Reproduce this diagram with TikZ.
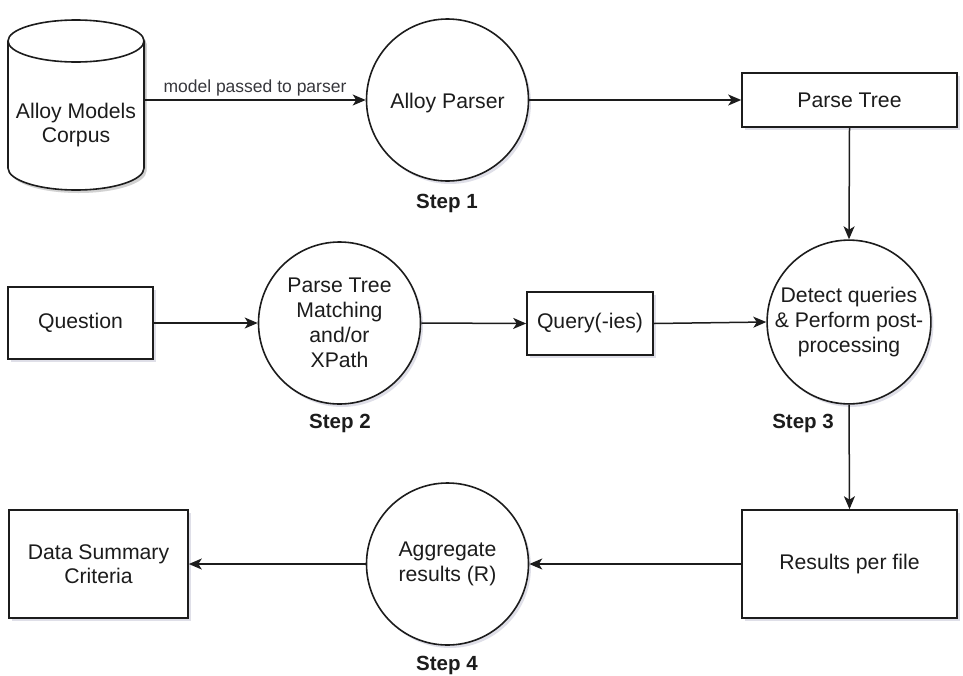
\documentclass[tikz,border=0pt]{standalone}
\usepackage{fontspec}
\setmainfont{Liberation Sans}
\usetikzlibrary{arrows.meta,shadows}
\definecolor{ink}{RGB}{28,28,28}
\definecolor{labelgray}{RGB}{55,55,60}
\definecolor{shade}{RGB}{110,110,150}
\tikzset{
  every picture/.style={x=1pt,y=1pt},
  soft/.style={drop shadow={shadow xshift=2.5pt,shadow yshift=-3pt,opacity=0.22,fill=shade}},
  procbox/.style={draw=ink,line width=1.6pt,fill=white,rectangle,inner sep=0pt,align=center,
    text=ink,font=\fontsize{21.2}{24.5}\selectfont,soft},
  proccircle/.style={draw=ink,line width=1.6pt,fill=white,circle,minimum size=162pt,inner sep=0pt,
    align=center,text=ink,font=\fontsize{21.2}{25}\selectfont,soft,
    execute at begin node={\rule{0pt}{22pt}}},
  steplabel/.style={font=\bfseries\fontsize{20.5}{24}\selectfont,text=ink,inner sep=0pt},
  flow/.style={draw=ink,line width=1.5pt,-{Stealth[length=13pt,width=11pt,inset=3.5pt]}},
}
\begin{document}
\begin{tikzpicture}
\useasboundingbox (0,0) rectangle (963,-675);

% corpus cylinder
\node[minimum width=136pt,minimum height=172pt,inner sep=0pt] (corpus) at (76,-105) {};
\fill[shade,opacity=0.22,shift={(2.5pt,-3pt)}] (8,-41) -- (8,-168) arc[start angle=180,end angle=360,x radius=68pt,y radius=22pt] -- (144,-41) arc[start angle=0,end angle=180,x radius=68pt,y radius=21pt] -- cycle;
\draw[ink,line width=1.6pt,fill=white] (8,-41) -- (8,-168) arc[start angle=180,end angle=360,x radius=68pt,y radius=22pt] -- (144,-41) arc[start angle=0,end angle=180,x radius=68pt,y radius=21pt] -- cycle;
\draw[ink,line width=1.6pt] (8,-41) arc[start angle=180,end angle=360,x radius=68pt,y radius=21pt];
\node[text=ink,align=center,font=\fontsize{21.2}{24.5}\selectfont] (corpustext) at (76,-125) {Alloy Models\\Corpus};

% processing steps
\node[proccircle] (parser) at (447.5,-100) {Alloy Parser};
\node[proccircle] (match) at (339.5,-323) {Parse Tree\\Matching\\and/or\\XPath};
\node[proccircle] (detect) at (849,-322) {Detect queries\\\& Perform post-\\processing};
\node[proccircle] (aggr) at (447.5,-564) {Aggregate\\results (R)};

% data boxes
\node[procbox,minimum width=215pt,minimum height=54pt] (tree) at (849.5,-100) {Parse Tree};
\node[procbox,minimum width=145pt,minimum height=72pt] (question) at (80.5,-323) {Question};
\node[procbox,minimum width=126pt,minimum height=63pt] (query) at (590,-323.5) {Query(-ies)};
\node[procbox,minimum width=215pt,minimum height=108pt] (results) at (849.5,-564) {Results per file};
\node[procbox,minimum width=179pt,minimum height=108pt] (summary) at (98.5,-564) {Data Summary\\Criteria};

% step captions
\node[steplabel] (s1) at (447,-203) {Step 1};
\node[steplabel] (s2) at (340,-423) {Step 2};
\node[steplabel] (s3) at (803,-423) {Step 3};
\node[steplabel] (s4) at (447,-665) {Step 4};

% connectors
\draw[flow] (corpus.east |- parser.west) -- node[above=3pt,text=labelgray,font=\fontsize{17.5}{20}\selectfont,inner sep=0pt] (lbl) {model passed to parser} (parser.west);
\draw[flow] (parser.east) -- (tree.west);
\draw[flow] (tree.south) -- (detect.north);
\draw[flow] (question.east) -- (match.west);
\draw[flow] (match.east) -- (query.west);
\draw[flow] (query.east) -- (detect.west);
\draw[flow] (detect.south) -- (results.north);
\draw[flow] (results.west) -- (aggr.east);
\draw[flow] (aggr.west) -- (summary.east);
\end{tikzpicture}
\end{document}
